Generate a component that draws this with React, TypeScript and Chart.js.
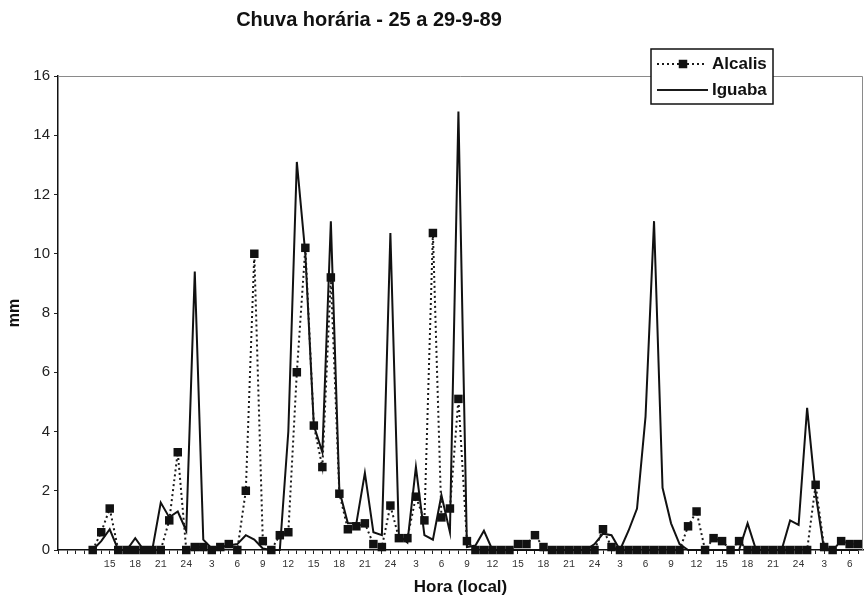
import React, { useEffect, useRef } from "react";
import { Chart, registerables } from "chart.js";

Chart.register(...registerables);

// Hour of day for each hourly category (25/9 09h … 29/9 07h)
const hours: number[] = [
  9, 10, 11, 12, 13, 14, 15, 16, 17, 18, 19, 20, 21, 22, 23, 24,
  1, 2, 3, 4, 5, 6, 7, 8, 9, 10, 11, 12, 13, 14, 15, 16, 17, 18, 19, 20, 21, 22, 23, 24,
  1, 2, 3, 4, 5, 6, 7, 8, 9, 10, 11, 12, 13, 14, 15, 16, 17, 18, 19, 20, 21, 22, 23, 24,
  1, 2, 3, 4, 5, 6, 7, 8, 9, 10, 11, 12, 13, 14, 15, 16, 17, 18, 19, 20, 21, 22, 23, 24,
  1, 2, 3, 4, 5, 6, 7,
];

// first category that carries a tick label
const firstLabelIndex = 6;

// Alcalis hourly rain (mm)
const alcalis: (number | null)[] = [
  null, null, null, null, 0, 0.6, 1.4, 0, 0, 0, 0, 0, 0, 1.0, 3.3, 0,
  0.1, 0.1, 0, 0.1, 0.2, 0, 2.0, 10.0, 0.3, 0, 0.5, 0.6, 6.0, 10.2, 4.2, 2.8, 9.2, 1.9, 0.7, 0.8, 0.9, 0.2, 0.1, 1.5,
  0.4, 0.4, 1.8, 1.0, 10.7, 1.1, 1.4, 5.1, 0.3, 0, 0, 0, 0, 0, 0.2, 0.2, 0.5, 0.1, 0, 0, 0, 0, 0, 0,
  0.7, 0.1, 0, 0, 0, 0, 0, 0, 0, 0, 0.8, 1.3, 0, 0.4, 0.3, 0, 0.3, 0, 0, 0, 0, 0, 0, 0,
  0, 2.2, 0.1, 0, 0.3, 0.2, 0.2,
];

// Iguaba hourly rain (mm)
const iguaba: (number | null)[] = [
  null, null, null, null, 0, 0.3, 0.7, 0, 0, 0.4, 0, 0, 1.6, 1.1, 1.3, 0.65,
  9.4, 0.35, 0.05, 0.1, 0.15, 0.2, 0.5, 0.35, 0.05, 0, 0, 4.0, 13.1, 10.0, 4.2, 3.3, 11.1, 2.0, 0.9, 0.9, 2.6, 0.6, 0.5, 10.7,
  0.5, 0.25, 2.8, 0.5, 0.35, 1.85, 0.6, 14.8, 0.1, 0.15, 0.65, 0, 0, 0, 0, 0, 0, 0, 0, 0, 0, 0, 0, 0.2,
  0.55, 0.5, 0, 0.65, 1.4, 4.5, 11.1, 2.1, 0.9, 0.2, 0, 0, 0, 0, 0, 0, 0, 0.9, 0, 0, 0, 0, 1.0, 0.85,
  4.8, 1.9, 0, 0, 0, 0, 0,
];

const yTicksMax = 16;
const yStep = 2;

const FONT = "'Liberation Sans', Arial, sans-serif";
const MONO = "'Liberation Mono', 'Courier New', monospace";

const X_MIN = -0.082;
const X_MAX = 94.57;

export default function App() {
  const ref = useRef<HTMLCanvasElement>(null);

  useEffect(() => {
    document.body.style.margin = "0";
    const canvas = ref.current!;
    const toPts = (arr: (number | null)[]) =>
      arr
        .map((v, i) => (v === null ? null : { x: i, y: v }))
        .filter((p) => p !== null) as { x: number; y: number }[];

    const overlay = {
      id: "overlay",
      afterDraw(chart: any) {
        const c = chart.ctx as CanvasRenderingContext2D;
        const a = chart.chartArea;
        c.save();
        // plot frame (top & right)
        c.strokeStyle = "#8a8a8a";
        c.lineWidth = 1;
        c.beginPath();
        c.moveTo(a.left, a.top + 0.5);
        c.lineTo(a.right - 0.5, a.top + 0.5);
        c.lineTo(a.right - 0.5, a.bottom);
        c.stroke();

        // title
        c.fillStyle = "#111";
        c.font = `bold 20px ${FONT}`;
        c.textAlign = "center";
        c.textBaseline = "middle";
        c.fillText("Chuva horária - 25 a 29-9-89", 369, 20);

        // legend
        const lx = 651, ly = 49, lw = 122, lh = 55;
        c.fillStyle = "#fff";
        c.fillRect(lx, ly, lw, lh);
        c.strokeStyle = "#111";
        c.lineWidth = 1.5;
        c.strokeRect(lx, ly, lw, lh);

        c.strokeStyle = "#1a1a1a";
        c.lineWidth = 2;
        c.setLineDash([2, 3]);
        c.beginPath();
        c.moveTo(657, 64);
        c.lineTo(707, 64);
        c.stroke();
        c.setLineDash([]);
        c.fillStyle = "#111";
        c.fillRect(683 - 4.25, 64 - 4.25, 8.5, 8.5);

        c.beginPath();
        c.moveTo(657, 90);
        c.lineTo(708, 90);
        c.stroke();

        c.font = `bold 17px ${FONT}`;
        c.textAlign = "left";
        c.textBaseline = "middle";
        c.fillText("Alcalis", 712, 64);
        c.fillText("Iguaba", 712, 90);
        c.restore();
      },
    };

    const chart = new Chart(canvas, {
      type: "line",
      data: {
        datasets: [
          {
            label: "Alcalis",
            data: toPts(alcalis),
            borderColor: "#1a1a1a",
            borderWidth: 2,
            borderDash: [2, 3],
            pointStyle: "rect",
            pointRadius: 6,
            pointBackgroundColor: "#111",
            pointBorderColor: "#111",
            pointBorderWidth: 0,
            tension: 0,
            clip: false,
          } as any,
          {
            label: "Iguaba",
            data: toPts(iguaba),
            borderColor: "#111",
            borderWidth: 2,
            pointRadius: 0,
            tension: 0,
            clip: false,
          } as any,
        ],
      },
      options: {
        responsive: false,
        animation: false,
        layout: { autoPadding: false, padding: { top: 76, right: 2, left: 0, bottom: 0 } },
        plugins: {
          legend: { display: false },
          title: { display: false },
          tooltip: { enabled: false },
        },
        scales: {
          x: {
            type: "linear",
            min: X_MIN,
            max: X_MAX,
            afterFit: (s: any) => {
              s.height = 48;
              s.paddingLeft = 0;
              s.paddingRight = 0;
            },
            ticks: {
              stepSize: 1,
              autoSkip: false,
              includeBounds: false,
              maxRotation: 0,
              minRotation: 0,
              padding: 4,
              color: "#333",
              font: { family: MONO, size: 10 },
              callback: (v: any) => {
                const i = Math.round(Number(v));
                const h = hours[i];
                return h !== undefined && i >= firstLabelIndex && h % 3 === 0 ? String(h) : "";
              },
            },
            grid: {
              drawOnChartArea: false,
              drawTicks: true,
              tickLength: 4,
              color: "#222",
            },
            border: { display: true, color: "#111", width: 1.5 },
            title: {
              display: true,
              text: "Hora (local)",
              color: "#111",
              font: { family: FONT, size: 17, weight: "bold" },
              padding: { top: 0, bottom: 0 },
            },
          } as any,
          y: {
            min: 0,
            max: yTicksMax,
            afterFit: (s: any) => {
              s.width = 58;
            },
            ticks: {
              stepSize: yStep,
              padding: 4,
              color: "#222",
              font: { family: FONT, size: 15 },
            },
            grid: {
              drawOnChartArea: false,
              drawTicks: true,
              tickLength: 4,
              color: "#222",
            },
            border: { display: true, color: "#111", width: 1.5 },
            title: {
              display: true,
              text: "mm",
              color: "#111",
              font: { family: FONT, size: 16, weight: "bold" },
              padding: { top: 5, bottom: 0 },
            },
          } as any,
        },
      },
      plugins: [overlay],
    });
    return () => chart.destroy();
  }, []);

  return (
    <canvas
      ref={ref}
      width={865}
      height={598}
      style={{ display: "block", width: "865px", height: "598px" }}
    />
  );
}
